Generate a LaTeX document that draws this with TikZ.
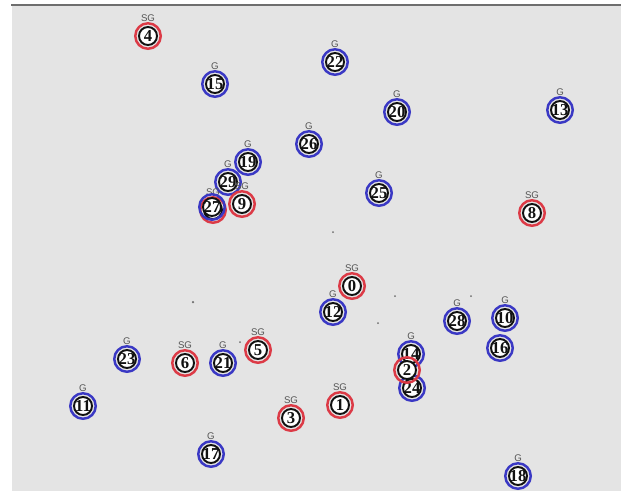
\documentclass[tikz,border=0pt]{standalone}
\usepackage{fontspec}
\usetikzlibrary{positioning}
\usepackage{xcolor}
\newfontfamily\numfont{Liberation Serif}
\newfontfamily\tagfont{Liberation Sans}
\definecolor{Panel}{HTML}{E4E4E4}
\definecolor{Frame}{HTML}{6E6E6E}
\definecolor{RingRed}{HTML}{DC3A46}
\definecolor{RingBlue}{HTML}{3A38C4}
\definecolor{Ink}{HTML}{111111}
\definecolor{TagGray}{HTML}{555555}

\begin{document}
\begin{tikzpicture}[
    x=0.02cm, y=-0.02cm,
    vtx/.style={
        circle, draw, line width=1.4pt, minimum size=0.51cm, inner sep=0pt,
        font=\numfont\bfseries\fontsize{9.5}{9.5}\selectfont, text=Ink,
        label distance=0.07cm,
        path picture={\draw[Ink, line width=1.1pt, fill=white]
            (path picture bounding box.center) circle[radius=0.18cm];}
    },
    tag/.style={font=\tagfont\fontsize{5.5}{5.5}\selectfont, text=TagGray, inner sep=0pt},
    sgnode/.style={vtx, draw=RingRed, label={[tag]above:SG}},
    gnode/.style={vtx, draw=RingBlue, label={[tag]above:G}},
    sgplain/.style={vtx, draw=RingRed},
    gplain/.style={vtx, draw=RingBlue},
    speck/.style={fill=Frame}
]
\useasboundingbox (0,0) rectangle (621,495);

% === Panel ===
\fill[white] (0,0) rectangle (621,495);
\fill[Panel] (12,5) rectangle (621,491);
\draw[Frame, line width=1.2pt] (11,5) -- (621,5);

% === Specks ===
\fill[speck] (333,232) circle[radius=0.02cm];
\fill[speck] (193,302) circle[radius=0.025cm];
\fill[speck] (395,296) circle[radius=0.02cm];
\fill[speck] (471,296) circle[radius=0.02cm];
\fill[speck] (378,323) circle[radius=0.02cm];
\fill[speck] (240,342) circle[radius=0.02cm];

% === Upper nodes ===
\node[sgnode] (n4) at (148,36) {4};
\node[gnode] (n15) at (215,84) {15};
\node[gnode] (n22) at (335,62) {22};
\node[gnode] (n20) at (397,112) {20};
\node[gnode] (n13) at (560,110) {13};
\node[gnode] (n26) at (309,144) {26};
\node[gnode] (n25) at (379,193) {25};
\node[sgnode] (n8) at (532,213) {8};

% === Cluster left ===
\node[gnode] (n19) at (248,162) {19};
\node[gnode] (n29) at (228,182) {29};
\node[sgnode] (n9) at (242,204) {9};
\node[sgnode] (n7) at (213,210) {7};
\node[gplain] (n27) at (212,207) {27};

% === Middle nodes ===
\node[sgnode] (n0) at (352,286) {0};
\node[gnode] (n12) at (333,312) {12};
\node[gnode] (n28) at (457,321) {28};
\node[gplain] (n16) at (500,348) {16};
\node[gnode] (n10) at (505,318) {10};

% === Cluster right ===
\node[gplain] (n24) at (412,388) {24};
\node[gnode] (n14) at (411,354) {14};
\node[sgplain] (n2) at (407,370) {2};

% === Lower nodes ===
\node[gnode] (n23) at (127,359) {23};
\node[sgnode] (n6) at (185,363) {6};
\node[gnode] (n21) at (223,363) {21};
\node[sgnode] (n5) at (258,350) {5};
\node[gnode] (n11) at (83,406) {11};
\node[sgnode] (n3) at (291,418) {3};
\node[sgnode] (n1) at (340,405) {1};
\node[gnode] (n17) at (211,454) {17};
\node[gnode] (n18) at (518,476) {18};

\end{tikzpicture}
\end{document}
